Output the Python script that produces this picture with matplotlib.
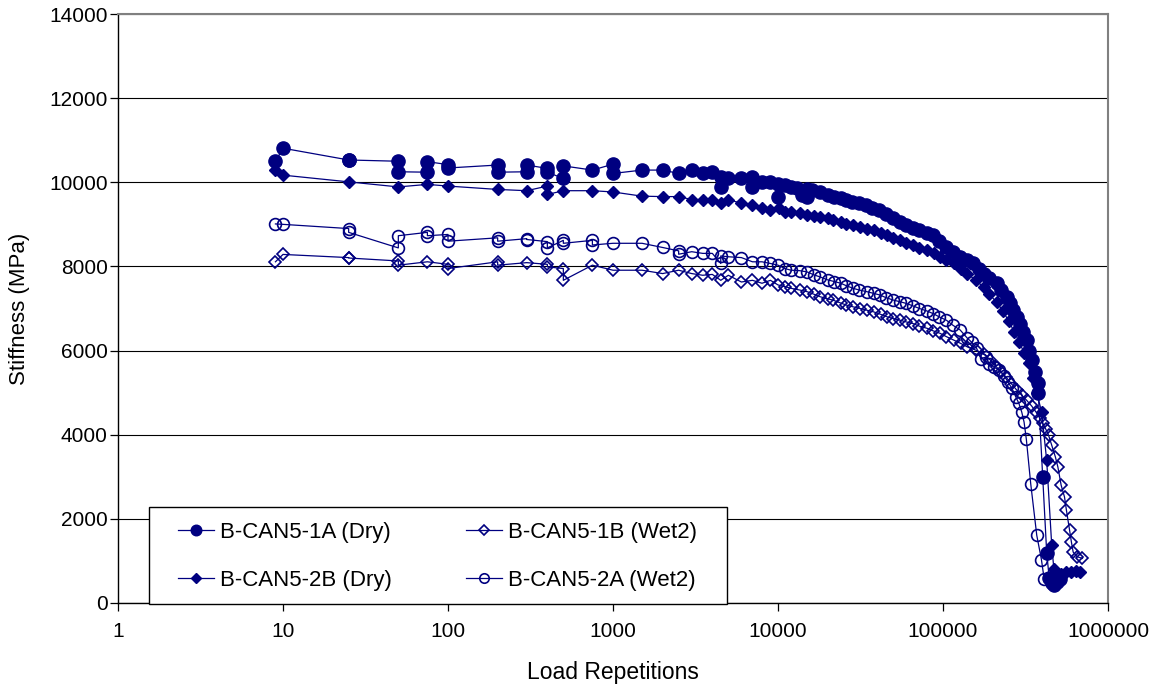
import matplotlib
matplotlib.use("Agg")
import matplotlib.pyplot as plt
from matplotlib.patches import Rectangle
from matplotlib.ticker import NullLocator, FixedLocator, FixedFormatter

plt.rcParams['font.family'] = ['Liberation Sans', 'DejaVu Sans']

# ---------------- data ----------------
# B-CAN5-1A (Dry) - filled circles
n_1a = [9, 10, 25, 25, 50, 50, 75, 75, 100, 100, 200, 200, 300, 300, 400, 400, 500, 500, 750,
        1000, 1000, 1500, 2000, 2500, 3000, 3500, 4000, 4500, 4500, 5000, 6000, 7000, 7000, 8000, 9000,
        10000, 10000, 11000, 12000, 13000, 14000, 15000, 15000, 16000, 18000, 20000, 22000, 24000,
        26000, 28000, 31000, 34000, 37000, 41000, 45000, 50000, 55000, 60000, 66000, 72000, 80000,
        87000, 95000, 105000, 115000, 127000, 140000, 152000, 165000, 176000, 190000, 211000, 225000,
        243000, 255000, 267000, 280000, 293000, 307000, 321000, 333000, 345000, 360000, 378000, 378000,
        402000, 425000, 440000, 455000, 470000, 490000, 510000]
s_1a = [10500, 10810, 10530, 10530, 10500, 10250, 10240, 10490, 10420, 10340, 10410, 10240, 10250, 10410,
        10330, 10240, 10090, 10390, 10290,
        10430, 10210, 10290, 10290, 10210, 10300, 10230, 10250, 9890, 10130, 10090, 10100, 10130, 9890,
        10010, 10010, 9970, 9660, 9930, 9890, 9870, 9700, 9850, 9660, 9820, 9770, 9700, 9660, 9620,
        9580, 9540, 9500, 9460, 9400, 9340, 9240, 9140, 9060, 8980, 8920, 8860, 8800,
        8740, 8600, 8470, 8350, 8230, 8150, 8070, 7950, 7830, 7720, 7600, 7450,
        7280, 7120, 6960, 6800, 6640, 6450, 6250, 6000, 5770, 5500, 5220, 4980,
        3000, 1200, 600, 480, 430, 500, 560]

# B-CAN5-2B (Dry) - filled diamonds
n_2b = [9, 10, 25, 50, 75, 100, 200, 300, 400, 400, 500, 750,
        1000, 1500, 2000, 2500, 3000, 3500, 4000, 4500, 5000, 6000, 7000, 8000, 9000,
        10200, 11000, 12000, 13500, 15000, 16500, 18000, 20000, 21500, 24000, 26000, 28500, 31400,
        34500, 38000, 42000, 45800, 50000, 55000, 60000, 66000, 72000, 80000, 88000, 96000, 105000,
        116000, 128000, 140000, 158000, 176000, 190000, 211000, 230000, 250000, 270000, 290000,
        310000, 330000, 350000, 370000, 396000, 425000, 456000, 470000, 490000, 520000, 560000,
        600000, 640000, 680000]
s_2b = [10290, 10170, 10010, 9890, 9950, 9910, 9830, 9800, 9910, 9710, 9800, 9800,
        9770, 9670, 9660, 9660, 9590, 9590, 9590, 9500, 9590, 9500, 9460, 9380, 9340,
        9380, 9300, 9300, 9260, 9220, 9200, 9180, 9140, 9100, 9060, 9020, 8980, 8940,
        8900, 8860, 8800, 8740, 8680, 8620, 8560, 8500, 8440, 8390, 8310, 8230, 8150,
        8070, 7950, 7830, 7670, 7510, 7350, 7150, 6950, 6700, 6450, 6200,
        5950, 5700, 5350, 5000, 4540, 3390, 1370, 800, 720, 700, 740,
        730, 760, 740]

# B-CAN5-1B (Wet2) - open diamonds
n_1b = [9, 10, 25, 25, 50, 50, 75, 100, 100, 200, 200, 300, 400, 400, 500, 500, 750,
        1000, 1500, 2000, 2500, 3000, 3500, 4000, 4500, 5000, 6000, 7000, 8000, 9000,
        10000, 11000, 12000, 13500, 15000, 16500, 18000, 20000, 21500, 24000, 26000, 28500, 31500,
        34500, 38000, 42000, 46000, 50000, 55000, 60000, 66000, 72000, 80000, 87000, 96000, 105000,
        116000, 128000, 140000, 158000, 176000, 193000, 211000, 225000, 240000, 260000, 280000,
        300000, 321000, 345000, 366000, 385000, 402000, 420000, 436000, 456000, 480000, 497000,
        520000, 545000, 560000, 585000, 600000, 615000, 650000, 700000]
s_1b = [8110, 8285, 8210, 8200, 8130, 8030, 8110, 8050, 7950, 8110, 8030, 8090, 8050, 7990, 7950, 7670, 8030,
        7910, 7910, 7830, 7910, 7830, 7790, 7810, 7670, 7790, 7630, 7670, 7600, 7670,
        7560, 7520, 7480, 7440, 7400, 7340, 7280, 7230, 7200, 7130, 7080, 7040, 7000,
        6960, 6920, 6860, 6800, 6760, 6720, 6680, 6640, 6580, 6530, 6470, 6410, 6330,
        6250, 6170, 6090, 6010, 5930, 5780, 5610, 5490, 5380, 5210, 5060,
        4940, 4820, 4680, 4540, 4400, 4270, 4130, 3990, 3750, 3470, 3230,
        2800, 2520, 2200, 1730, 1450, 1210, 1100, 1060]

# B-CAN5-2A (Wet2) - open circles
n_2a = [9, 10, 25, 25, 50, 50, 75, 75, 100, 100, 200, 200, 300, 300, 400, 400, 500, 500, 750, 750,
        1000, 1500, 2000, 2500, 2500, 3000, 3500, 4000, 4500, 4500, 5000, 6000, 7000, 8000, 9000,
        10000, 11000, 12000, 13500, 15000, 16500, 18000, 20000, 22000, 24000, 26000, 28500, 31000,
        34500, 38000, 41500, 45000, 50000, 55000, 60000, 66000, 72000, 80000, 87000, 95000, 105000,
        115000, 127000, 140000, 149000, 160000, 170000, 183000, 190000, 205000, 220000, 235000,
        247000, 262000, 276000, 288000, 300000, 310000, 320000, 340000, 370000, 395000, 410000]
s_2a = [9010, 9000, 8900, 8810, 8440, 8730, 8810, 8730, 8760, 8600, 8680, 8600, 8660, 8640, 8590, 8440,
        8620, 8550, 8620, 8510,
        8550, 8550, 8450, 8370, 8290, 8350, 8310, 8310, 8070, 8250, 8230, 8210, 8110, 8110, 8070,
        8030, 7950, 7910, 7900, 7870, 7800, 7750, 7680, 7640, 7600, 7540, 7480, 7440,
        7400, 7360, 7320, 7260, 7200, 7160, 7120, 7060, 7000, 6940, 6880, 6800, 6720,
        6600, 6490, 6300, 6200, 6050, 5810, 5850, 5690, 5600, 5530, 5400,
        5260, 5100, 4900, 4750, 4540, 4300, 3890, 2840, 1610, 1030, 580]

labels = ['B-CAN5-1A (Dry)', 'B-CAN5-1B (Wet2)', 'B-CAN5-2B (Dry)', 'B-CAN5-2A (Wet2)']
x_ticks = [1, 10, 100, 1000, 10000, 100000, 1000000]
x_ticklabels = ['1', '10', '100', '1000', '10000', '100000', '1000000']
y_ticks = [0, 2000, 4000, 6000, 8000, 10000, 12000, 14000]

NAVY = '#000080'
W, H = 1159, 689

fig = plt.figure(figsize=(W / 100, H / 100), dpi=100)
ax = fig.add_axes([118 / W, (H - 603) / H, (1108 - 118) / W, (603 - 14) / H])

ax.set_xscale('log')
ax.set_xlim(1, 1e6)
ax.set_ylim(0, 14000)

lw = 0.9
h1a, = ax.plot(n_1a, s_1a, color=NAVY, lw=lw, marker='o', ms=9.5, mfc=NAVY, mec=NAVY,
               label=labels[0], zorder=3, clip_on=False)
h1b, = ax.plot(n_1b, s_1b, color=NAVY, lw=lw, marker='D', ms=6.0, mfc='none', mec=NAVY, mew=1.2,
               label=labels[1], zorder=3, clip_on=False)
h2b, = ax.plot(n_2b, s_2b, color=NAVY, lw=lw, marker='D', ms=6.5, mfc=NAVY, mec=NAVY,
               label=labels[2], zorder=3, clip_on=False)
h2a, = ax.plot(n_2a, s_2a, color=NAVY, lw=lw, marker='o', ms=8.5, mfc='none', mec=NAVY, mew=1.2,
               label=labels[3], zorder=3, clip_on=False)

ax.xaxis.set_major_locator(FixedLocator(x_ticks))
ax.xaxis.set_major_formatter(FixedFormatter(x_ticklabels))
ax.xaxis.set_minor_locator(NullLocator())
ax.set_yticks(y_ticks)
ax.set_yticklabels([str(v) for v in y_ticks])

ax.yaxis.grid(True, color='black', lw=0.8)
ax.set_axisbelow(True)

for side in ('left', 'bottom'):
    ax.spines[side].set_color('black')
    ax.spines[side].set_linewidth(1.0)
for side in ('top', 'right'):
    ax.spines[side].set_color('#808080')
    ax.spines[side].set_linewidth(1.5)

ax.tick_params(axis='both', which='major', direction='out', length=6, width=0.9,
               labelsize=15, color='black')
ax.tick_params(axis='x', pad=8)
ax.tick_params(axis='y', pad=1.5)

ax.set_xlabel('Load Repetitions', fontsize=16.5, labelpad=14)
ax.set_ylabel('Stiffness (MPa)', fontsize=16, labelpad=14)

# legend frame
rect = Rectangle((149 / W, (H - 604) / H), (727 - 149) / W, (604 - 507) / H,
                 transform=fig.transFigure, facecolor='white', edgecolor='black',
                 lw=1.0, clip_on=False, zorder=9)
ax.add_patch(rect)

leg = ax.legend([h1a, h2b, h1b, h2a], [labels[0], labels[2], labels[1], labels[3]],
                ncol=2, loc='upper left', bbox_to_anchor=(178 / W, (H - 522) / H),
                bbox_transform=fig.transFigure, frameon=False, fontsize=16,
                borderpad=0, borderaxespad=0, handlelength=1.6, handletextpad=0.28,
                columnspacing=3.35, labelspacing=1.22, markerscale=0.8)
leg.set_zorder(10)

fig.savefig('out.png', dpi=100)
